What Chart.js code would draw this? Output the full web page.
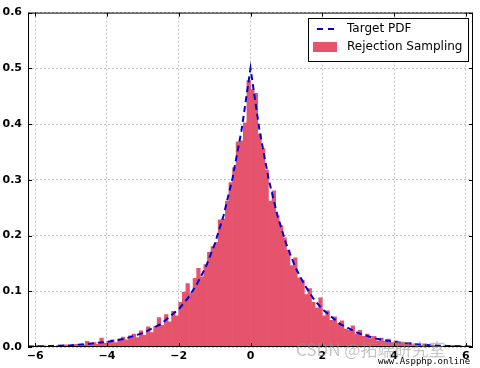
<!DOCTYPE html>
<html>
<head>
<meta charset="utf-8">
<script src="https://cdn.jsdelivr.net/npm/chart.js@4/dist/chart.umd.min.js"></script>
<style>
  html, body { margin: 0; padding: 0; background: #fff; }
  #wrap { width: 480px; height: 368px; }
</style>
</head>
<body>
<div id="wrap"><canvas id="myChart"></canvas></div>
<script>
// histogram bins: start at -6.2, width 0.1
var binStart = -6.2;
var binWidth = 0.1;
var histValues = [
  0.002, 0.000, 0.003, 0.001, 0.002, 0.000, 0.002, 0.001, 0.003, 0.001,
  0.004, 0.002, 0.003, 0.005, 0.002, 0.004, 0.010, 0.006, 0.008, 0.005,
  0.016, 0.007, 0.010, 0.013, 0.008, 0.014, 0.018, 0.013, 0.020, 0.023,
  0.017, 0.029, 0.021, 0.036, 0.026, 0.037, 0.053, 0.039, 0.058, 0.045,
  0.064, 0.056, 0.080, 0.098, 0.114, 0.096, 0.123, 0.141, 0.126, 0.148,
  0.170, 0.180, 0.188, 0.228, 0.230, 0.262, 0.295, 0.322, 0.368, 0.370,
  0.402, 0.478, 0.462, 0.455, 0.382, 0.356, 0.318, 0.262, 0.280, 0.236,
  0.218, 0.196, 0.174, 0.146, 0.160, 0.124, 0.120, 0.094, 0.105, 0.080,
  0.070, 0.088, 0.056, 0.065, 0.048, 0.054, 0.042, 0.047, 0.032, 0.030,
  0.038, 0.023, 0.030, 0.019, 0.023, 0.015, 0.019, 0.011, 0.016, 0.010,
  0.014, 0.008, 0.011, 0.006, 0.009, 0.005, 0.008, 0.004, 0.006, 0.003,
  0.005, 0.002, 0.004, 0.002, 0.003, 0.001, 0.002, 0.001, 0.003, 0.001,
  0.002, 0.000, 0.001, 0.001
];

// target pdf
var pdfX = [-6.2, -6, -5.5, -5, -4.5, -4, -3.5, -3, -2.5, -2, -1.75, -1.5, -1.25, -1, -0.75, -0.5, -0.25, 0,
            0.25, 0.5, 0.75, 1, 1.25, 1.5, 1.75, 2, 2.5, 3, 3.5, 4, 4.5, 5, 5.5, 6, 6.2];
var pdfY = [0.001, 0.001, 0.002, 0.003, 0.006, 0.009, 0.015, 0.025, 0.041, 0.068, 0.087, 0.112, 0.143, 0.184, 0.236, 0.303, 0.389, 0.5,
            0.389, 0.303, 0.236, 0.184, 0.143, 0.112, 0.087, 0.068, 0.041, 0.025, 0.015, 0.009, 0.006, 0.003, 0.002, 0.001, 0.001];

var xTicks = [-6, -4, -2, 0, 2, 4, 6];
var yTicks = [0.0, 0.1, 0.2, 0.3, 0.4, 0.5, 0.6];

var barColor = '#e5546c';
var lineColor = '#0000d0';
var gridColor = '#c4c4c4';
var tickFont = { family: 'DejaVu Sans', size: 11, weight: 'bold' };

var barData = histValues.map(function (v, i) {
  return { x: binStart + binWidth * (i + 0.5), y: v };
});
var lineData = pdfX.map(function (x, i) { return { x: x, y: pdfY[i] }; });

// frame, inward ticks, legend and watermark
var decor = {
  id: 'decor',
  afterDraw: function (chart) {
    var ctx = chart.ctx;
    var a = chart.chartArea;
    var xs = chart.scales.x, ys = chart.scales.y;
    ctx.save();
    ctx.strokeStyle = '#000';
    ctx.lineWidth = 1;
    ctx.strokeRect(a.left + 0.5, a.top + 0.5, a.right - a.left - 1, a.bottom - a.top - 1);
    ctx.beginPath();
    xTicks.forEach(function (t) {
      var px = Math.round(xs.getPixelForValue(t)) + 0.5;
      ctx.moveTo(px, a.bottom); ctx.lineTo(px, a.bottom - 4);
      ctx.moveTo(px, a.top); ctx.lineTo(px, a.top + 4);
    });
    yTicks.forEach(function (t) {
      var py = Math.round(ys.getPixelForValue(t)) + 0.5;
      ctx.moveTo(a.left, py); ctx.lineTo(a.left + 4, py);
      ctx.moveTo(a.right, py); ctx.lineTo(a.right - 4, py);
    });
    ctx.stroke();

    // legend box
    ctx.fillStyle = '#fff';
    ctx.fillRect(308, 18, 160, 43);
    ctx.strokeRect(308.5, 18.5, 160, 43);
    ctx.strokeStyle = lineColor;
    ctx.lineWidth = 2;
    ctx.setLineDash([6, 5]);
    ctx.beginPath();
    ctx.moveTo(317, 29); ctx.lineTo(338, 29);
    ctx.stroke();
    ctx.setLineDash([]);
    ctx.fillStyle = barColor;
    ctx.fillRect(313, 42, 24, 10);
    ctx.fillStyle = '#000';
    ctx.font = '12px "DejaVu Sans"';
    ctx.textBaseline = 'middle';
    ctx.fillText('Target PDF', 347, 29);
    ctx.fillText('Rejection Sampling', 347, 47);

    // watermark
    ctx.fillStyle = 'rgba(150,150,150,0.55)';
    ctx.font = '17px "Noto Sans CJK SC"';
    ctx.fillText('CSDN @拓端研究室', 296, 350);
    ctx.fillStyle = '#000';
    ctx.font = '9px "DejaVu Sans Mono"';
    ctx.fillText('www.Aspphp.online', 378, 362);
    ctx.restore();
  }
};

var ctx = document.getElementById('myChart').getContext('2d');
var myChart = new Chart(ctx, {
  type: 'bar',
  data: {
    datasets: [{
      type: 'line',
      label: 'Target PDF',
      data: lineData,
      borderColor: lineColor,
      borderWidth: 2,
      borderDash: [6, 4],
      pointRadius: 0,
      fill: false,
      order: 0,
    }, {
      label: 'Rejection Sampling',
      data: barData,
      backgroundColor: barColor,
      borderWidth: 0,
      barPercentage: 1,
      categoryPercentage: 1,
      order: 1,
    }]
  },
  options: {
    responsive: true,
    maintainAspectRatio: false,
    animation: false,
    layout: { padding: { top: 12, right: 7, left: 0, bottom: 0 } },
    plugins: { legend: { display: false }, tooltip: { enabled: false } },
    scales: {
      x: {
        type: 'linear',
        min: -6.2,
        max: 6.2,
        offset: false,
        z: 1,
        afterBuildTicks: function (s) { s.ticks = xTicks.map(function (v) { return { value: v }; }); },
        afterFit: function (s) { s.height = 21; },
        grid: { color: gridColor, tickLength: 0, drawTicks: false, offset: false },
        border: { display: false, dash: [2, 2] },
        ticks: {
          color: '#000', font: tickFont, padding: 3, maxRotation: 0,
          callback: function (v) { return v < 0 ? '\u2212' + Math.abs(v) : String(v); }
        }
      },
      y: {
        min: 0,
        max: 0.6,
        z: 1,
        afterBuildTicks: function (s) { s.ticks = yTicks.map(function (v) { return { value: v }; }); },
        afterFit: function (s) { s.width = 28; },
        grid: { color: gridColor, drawTicks: false },
        border: { display: false, dash: [2, 2] },
        ticks: {
          color: '#000', font: tickFont, padding: 6,
          callback: function (v) { return v.toFixed(1); }
        }
      }
    }
  },
  plugins: [decor]
});
</script>
</body>
</html>
